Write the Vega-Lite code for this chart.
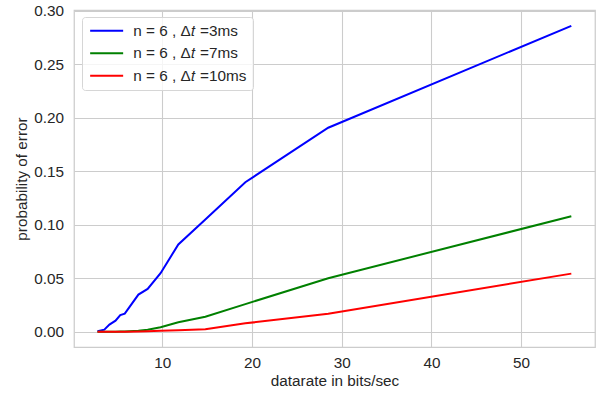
{
  "$schema": "https://vega.github.io/schema/vega-lite/v6.json",
  "width": 521,
  "height": 337,
  "autosize": {"type": "none"},
  "padding": {"left": 74, "top": 10, "right": 2, "bottom": 47},
  "background": "white",
  "config": {
    "font": "Liberation Sans",
    "view": {"stroke": "#cccccc", "strokeWidth": 1.25},
    "axis": {
      "grid": true,
      "gridColor": "#cccccc",
      "gridWidth": 1.1,
      "domain": false,
      "ticks": false,
      "labelFont": "Liberation Sans",
      "labelFontSize": 15.3,
      "labelColor": "#262626",
      "titleFont": "Liberation Sans",
      "titleFontSize": 15.3,
      "titleFontWeight": "normal",
      "titleColor": "#262626"
    }
  },
  "data": {
    "values": [
      {"rate": 2.78, "p": 0.0005, "series": "n = 6 , Δ𝑡 =3ms"},
      {"rate": 3.54, "p": 0.0019, "series": "n = 6 , Δ𝑡 =3ms"},
      {"rate": 4.11, "p": 0.0066, "series": "n = 6 , Δ𝑡 =3ms"},
      {"rate": 4.79, "p": 0.0103, "series": "n = 6 , Δ𝑡 =3ms"},
      {"rate": 5.32, "p": 0.0156, "series": "n = 6 , Δ𝑡 =3ms"},
      {"rate": 5.82, "p": 0.0169, "series": "n = 6 , Δ𝑡 =3ms"},
      {"rate": 7.34, "p": 0.0347, "series": "n = 6 , Δ𝑡 =3ms"},
      {"rate": 8.37, "p": 0.0400, "series": "n = 6 , Δ𝑡 =3ms"},
      {"rate": 9.81, "p": 0.0547, "series": "n = 6 , Δ𝑡 =3ms"},
      {"rate": 11.79, "p": 0.0816, "series": "n = 6 , Δ𝑡 =3ms"},
      {"rate": 14.8, "p": 0.1050, "series": "n = 6 , Δ𝑡 =3ms"},
      {"rate": 19.26, "p": 0.1398, "series": "n = 6 , Δ𝑡 =3ms"},
      {"rate": 28.5, "p": 0.1907, "series": "n = 6 , Δ𝑡 =3ms"},
      {"rate": 55.6, "p": 0.2860, "series": "n = 6 , Δ𝑡 =3ms"},
      {"rate": 2.78, "p": 0.0, "series": "n = 6 , Δ𝑡 =7ms"},
      {"rate": 3.54, "p": 0.0, "series": "n = 6 , Δ𝑡 =7ms"},
      {"rate": 4.11, "p": 0.0, "series": "n = 6 , Δ𝑡 =7ms"},
      {"rate": 4.79, "p": 0.0, "series": "n = 6 , Δ𝑡 =7ms"},
      {"rate": 5.32, "p": 0.0001, "series": "n = 6 , Δ𝑡 =7ms"},
      {"rate": 5.82, "p": 0.0002, "series": "n = 6 , Δ𝑡 =7ms"},
      {"rate": 7.34, "p": 0.0008, "series": "n = 6 , Δ𝑡 =7ms"},
      {"rate": 8.37, "p": 0.0018, "series": "n = 6 , Δ𝑡 =7ms"},
      {"rate": 9.81, "p": 0.0041, "series": "n = 6 , Δ𝑡 =7ms"},
      {"rate": 11.79, "p": 0.0088, "series": "n = 6 , Δ𝑡 =7ms"},
      {"rate": 14.8, "p": 0.0140, "series": "n = 6 , Δ𝑡 =7ms"},
      {"rate": 19.26, "p": 0.0258, "series": "n = 6 , Δ𝑡 =7ms"},
      {"rate": 28.5, "p": 0.0500, "series": "n = 6 , Δ𝑡 =7ms"},
      {"rate": 55.6, "p": 0.1080, "series": "n = 6 , Δ𝑡 =7ms"},
      {"rate": 2.78, "p": 0.0, "series": "n = 6 , Δ𝑡 =10ms"},
      {"rate": 3.54, "p": 0.0, "series": "n = 6 , Δ𝑡 =10ms"},
      {"rate": 4.11, "p": 0.0, "series": "n = 6 , Δ𝑡 =10ms"},
      {"rate": 4.79, "p": 0.0, "series": "n = 6 , Δ𝑡 =10ms"},
      {"rate": 5.32, "p": 0.0, "series": "n = 6 , Δ𝑡 =10ms"},
      {"rate": 5.82, "p": 0.0, "series": "n = 6 , Δ𝑡 =10ms"},
      {"rate": 7.34, "p": 0.0002, "series": "n = 6 , Δ𝑡 =10ms"},
      {"rate": 8.37, "p": 0.0004, "series": "n = 6 , Δ𝑡 =10ms"},
      {"rate": 9.81, "p": 0.0008, "series": "n = 6 , Δ𝑡 =10ms"},
      {"rate": 11.79, "p": 0.0014, "series": "n = 6 , Δ𝑡 =10ms"},
      {"rate": 14.8, "p": 0.0023, "series": "n = 6 , Δ𝑡 =10ms"},
      {"rate": 19.26, "p": 0.0078, "series": "n = 6 , Δ𝑡 =10ms"},
      {"rate": 28.5, "p": 0.0168, "series": "n = 6 , Δ𝑡 =10ms"},
      {"rate": 55.6, "p": 0.0543, "series": "n = 6 , Δ𝑡 =10ms"}
    ]
  },
  "mark": {"type": "line", "strokeWidth": 2, "clip": true},
  "encoding": {
    "x": {
      "field": "rate",
      "type": "quantitative",
      "scale": {"domain": [0.16, 58.24], "nice": false, "zero": false},
      "axis": {"title": "datarate in bits/sec", "values": [10, 20, 30, 40, 50], "labelPadding": 8, "titlePadding": 3}
    },
    "y": {
      "field": "p",
      "type": "quantitative",
      "scale": {"domain": [-0.0143, 0.3008], "nice": false, "zero": false},
      "axis": {"title": "probability of error", "values": [0, 0.05, 0.1, 0.15, 0.2, 0.25, 0.3], "format": ".2f", "labelPadding": 10.5, "titlePadding": 4}
    },
    "color": {
      "field": "series",
      "type": "nominal",
      "scale": {
        "domain": ["n = 6 , Δ𝑡 =3ms", "n = 6 , Δ𝑡 =7ms", "n = 6 , Δ𝑡 =10ms"],
        "range": ["#0000ff", "#008000", "#ff0000"]
      },
      "legend": {
        "title": null,
        "orient": "none",
        "legendX": 8,
        "legendY": 7,
        "fillColor": "rgba(255,255,255,0.8)",
        "strokeColor": "#d6d6d6",
        "cornerRadius": 3,
        "padding": 6,
        "symbolType": "M-1,0H5",
        "symbolSize": 121,
        "symbolStrokeWidth": 2,
        "labelOffset": 30,
        "labelFont": "Liberation Sans",
        "labelFontSize": 15.3,
        "labelColor": "#262626",
        "rowPadding": 6.5
      }
    }
  }
}
